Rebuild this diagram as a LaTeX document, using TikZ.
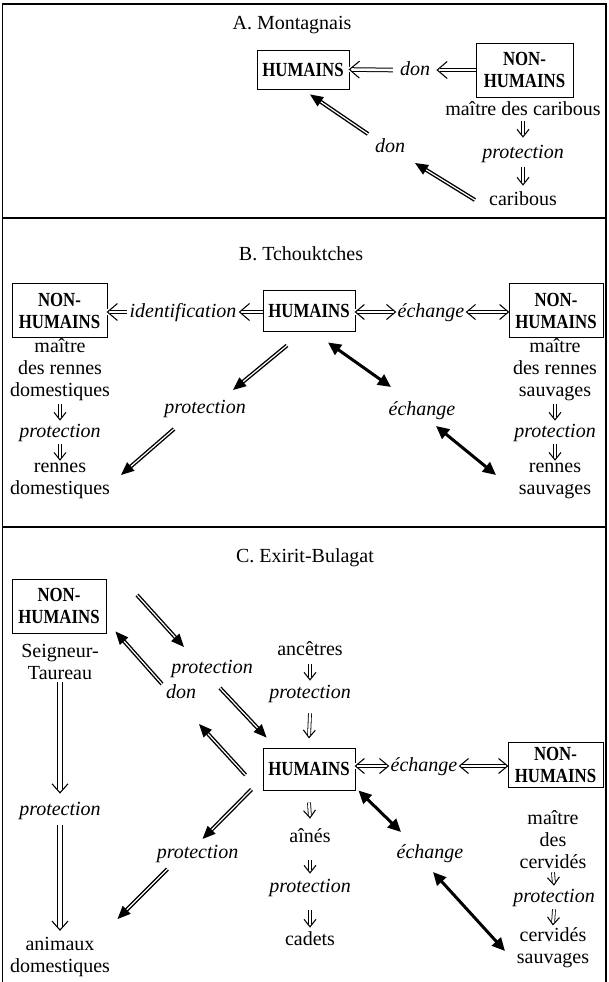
\documentclass[tikz,border=0pt]{standalone}
\usepackage{fontspec}
\setmainfont{Liberation Serif}
\newfontface\boxfont[FakeStretch=0.84]{Liberation Serif Bold}
\usetikzlibrary{arrows.meta,calc,decorations.markings}
\newcommand\hhf[4]{\fill[white] (-#3pt,-#4pt) rectangle (0.9pt,#4pt); \draw[line width=1.05pt, line join=miter] (-#1pt,#2pt) -- (0pt,0pt) -- (-#1pt,-#2pt);}
\newcommand\hhb[4]{\fill[white] (#3pt,-#4pt) rectangle (-0.9pt,#4pt); \draw[line width=1.05pt, line join=miter] (#1pt,#2pt) -- (0pt,0pt) -- (#1pt,-#2pt);}
\begin{document}
\begin{tikzpicture}[x=1pt,y=-1pt,
  txt/.style={inner sep=2pt, font=\fontsize{20}{22}\selectfont, text height=14pt, text depth=4pt},
  mtxt/.style={inner sep=2pt, font=\fontsize{20}{22}\selectfont, align=center},
  itx/.style={inner sep=2pt, font=\fontsize{20}{22}\selectfont\itshape, text height=14pt, text depth=4pt},
  hbox/.style={draw, line width=0.9pt, font=\fontsize{20}{22}\boxfont, align=center, inner sep=0pt, minimum width=92pt, minimum height=40pt},
  nbox/.style={hbox, minimum width=95pt, minimum height=54pt},
  dbl/.style={double, double distance=2.6pt, line width=1pt,
    postaction={decorate, decoration={markings, mark=at position 1 with {\hhf{10}{8.5}{2.7}{2.6}}}}},
  dbltwo/.style={double, double distance=2.6pt, line width=1pt,
    postaction={decorate, decoration={markings,
      mark=at position 0 with {\hhb{9}{7.5}{2.8}{2.6}},
      mark=at position 1 with {\hhf{9}{7.5}{2.8}{2.6}}}}},
  dn/.style={double, double distance=2.2pt, line width=0.8pt,
    postaction={decorate, decoration={markings, mark=at position 1 with {\hhf{7.5}{6}{2.4}{2.2}}}}},
  longdn/.style={double, double distance=4.5pt, line width=0.9pt,
    postaction={decorate, decoration={markings, mark=at position 1 with {\hhf{9}{8}{3.5}{3.5}}}}},
  thk/.style={double, double distance=1.2pt, line width=1.4pt, -{Triangle[length=13pt,width=11pt]}},
  bid/.style={line width=3pt, {Triangle[length=13pt,width=12pt]}-{Triangle[length=13pt,width=12pt]}},
  frame/.style={line width=1.2pt}
]
\useasboundingbox (0,0) rectangle (609,982);
% frame
\draw[frame] (2.5,982) -- (2.5,4) -- (606,4) -- (606,982);
\draw[frame] (2.5,218) -- (606,218);
\draw[frame] (2.5,527) -- (606,527);

% ---------- A ----------
\node[txt] (titleA) at (292,25) {A. Montagnais};
\node[hbox, minimum height=39pt] (humA) at (303,69.5) {HUMAINS};
\node[nbox, minimum width=97pt] (nonA) at (524.5,70) {NON-\\HUMAINS};
\node[itx] (donA) at (415,70) {don};
\draw[dbl] (nonA.west) -- ($(donA.east)+(5,0)$);
\draw[dbl] ($(donA.west)+(-5,0)$) -- (humA.east);
\node[txt] (maitreA) at (523,110) {maître des caribous};
\node[itx] (protA) at (523,153) {protection};
\node[txt] (caribA) at (523,200) {caribous};
\draw[dn] (maitreA.south) -- ($(protA.north)+(0,-5)$);
\draw[dn] ($(protA.south)+(0,3)$) -- ($(caribA.north)+(0,-4)$);
\node[itx] (donA2) at (390,147) {don};
\draw[thk] ($(caribA.west)+(-12,0)$) -- ($(donA2)+(25,16)$);
\draw[thk] ($(donA2)+(-22,-13)$) -- ($(humA.south)+(7,5)$);

% ---------- B ----------
\node[txt] (titleB) at (301,255) {B. Tchouktches};
\node[nbox] (nonBL) at (59.5,310.5) {NON-\\HUMAINS};
\node[itx] (idB) at (183,312) {identification};
\node[hbox, minimum height=41pt] (humB) at (309,310.5) {HUMAINS};
\node[itx] (echB1) at (431,312) {échange};
\node[nbox, minimum width=94pt] (nonBR) at (556,310.5) {NON-\\HUMAINS};
\draw[dbl] (humB.west |- idB.east) -- ($(idB.east)+(1,0)$);
\draw[dbl] (idB.west) -- (nonBL.east |- idB.west);
\draw[dbltwo] (humB.east |- echB1.west) -- (echB1.west);
\draw[dbltwo] (echB1.east) -- (nonBR.west |- echB1.east);

\node[mtxt] (maitreBL) at (60,370) {maître\\des rennes\\domestiques};
\node[itx] (protBL) at (60,432) {protection};
\node[mtxt] (rennesBL) at (60,481) {rennes\\domestiques};
\draw[dn] ($(maitreBL.south)+(0,1)$) -- ($(protBL.north)+(0,-1)$);
\draw[dn] ($(protBL.south)+(0,1)$) -- ($(rennesBL.north)+(0,-1)$);

\node[mtxt] (maitreBR) at (555,370) {maître\\des rennes\\sauvages};
\node[itx] (protBR) at (555,432) {protection};
\node[mtxt] (rennesBR) at (555,481) {rennes\\sauvages};
\draw[dn] ($(maitreBR.south)+(0,1)$) -- ($(protBR.north)+(0,-1)$);
\draw[dn] ($(protBR.south)+(0,1)$) -- ($(rennesBR.north)+(0,-1)$);

\node[itx] (protB) at (205,408) {protection};
\draw[thk] ($(humB.south)+(-22,14)$) -- ($(protB)+(28,-18)$);
\draw[thk] ($(protB)+(-31,21)$) -- ($(protB)+(-84,67)$);
\node[itx] (echB2) at (422,410) {échange};
\draw[bid] ($(humB.south)+(19,11)$) -- ($(echB2)+(-31,-23)$);
\draw[bid] ($(echB2)+(14,16)$) -- ($(echB2)+(74,65)$);

% ---------- C ----------
\node[txt] (titleC) at (305,557) {C. Exirit-Bulagat};
\node[nbox, minimum width=94pt] (nonCL) at (59,606) {NON-\\HUMAINS};
\node[mtxt] (seign) at (60,662) {Seigneur-\\Taureau};
\node[itx] (protCL) at (60,810) {protection};
\node[mtxt] (anim) at (60,957) {animaux\\domestiques};
\draw[longdn] (seign.south) -- ($(protCL.north)+(0,-6)$);
\draw[longdn] ($(protCL.south)+(0,4)$) -- ($(anim.north)+(0,-5)$);

\node[txt] (anc) at (310,650) {ancêtres};
\node[itx] (protC2) at (310,693) {protection};
\node[hbox, minimum height=42pt] (humC) at (309,769) {HUMAINS};
\node[txt] (aines) at (310,837) {aînés};
\node[itx] (protC3) at (310,887) {protection};
\node[txt] (cadets) at (310,940) {cadets};
\draw[dn] ($(anc.south)+(0,3)$) -- ($(protC2.north)+(0,-2)$);
\draw[dn] ($(protC2.south)+(0,9)$) -- ($(humC.north)+(0,-10)$);
\draw[dn] ($(humC.south)+(0,12)$) -- ($(aines.north)+(0,-8)$);
\draw[dn] ($(aines.south)+(0,12)$) -- ($(protC3.north)+(0,-3)$);
\draw[dn] ($(protC3.south)+(0,12)$) -- ($(cadets.north)+(0,-2)$);

\node[itx] (echC1) at (424,766) {échange};
\node[nbox, minimum width=95pt, minimum height=45pt] (nonCR) at (555.5,765) {NON-\\HUMAINS};
\draw[dbltwo] (humC.east |- echC1.west) -- (echC1.west);
\draw[dbltwo] (echC1.east) -- (nonCR.west |- echC1.east);

\node[mtxt] (maitreC) at (553,840) {maître\\des\\cervidés};
\node[itx] (protCR) at (554,897) {protection};
\node[mtxt] (cervS) at (553,948) {cervidés\\sauvages};
\draw[dn] ($(maitreC.south)+(0,1)$) -- ($(protCR.north)+(0,-1)$);
\draw[dn] ($(protCR.south)+(0,1)$) -- ($(cervS.north)+(0,-1)$);

\node[itx] (protC1) at (212,668) {protection};
\draw[thk] ($(protC1)+(-75,-73)$) -- ($(protC1)+(-28,-21)$);
\draw[thk] ($(protC1)+(8,20)$) -- ($(humC.north west)+(4,-10)$);
\node[itx] (donC) at (181,693) {don};
\draw[thk] ($(humC.west)+(-17,6)$) -- ($(donC)+(18,31)$);
\draw[thk] ($(donC)+(-19,-9)$) -- ($(nonCL.south east)+(9,-2)$);
\node[itx] (protC4) at (197.5,853) {protection};
\draw[thk] ($(humC.south west)+(-11,-1)$) -- ($(protC4)+(5,-14)$);
\draw[thk] ($(protC4)+(-30,16)$) -- ($(protC4)+(-80,66)$);
\node[itx] (echC2) at (430,853) {échange};
\draw[bid] ($(humC.south east)+(3,0)$) -- ($(echC2)+(-29,-21)$);
\draw[bid] ($(echC2)+(3,19)$) -- ($(echC2)+(75,98)$);
\end{tikzpicture}
\end{document}
